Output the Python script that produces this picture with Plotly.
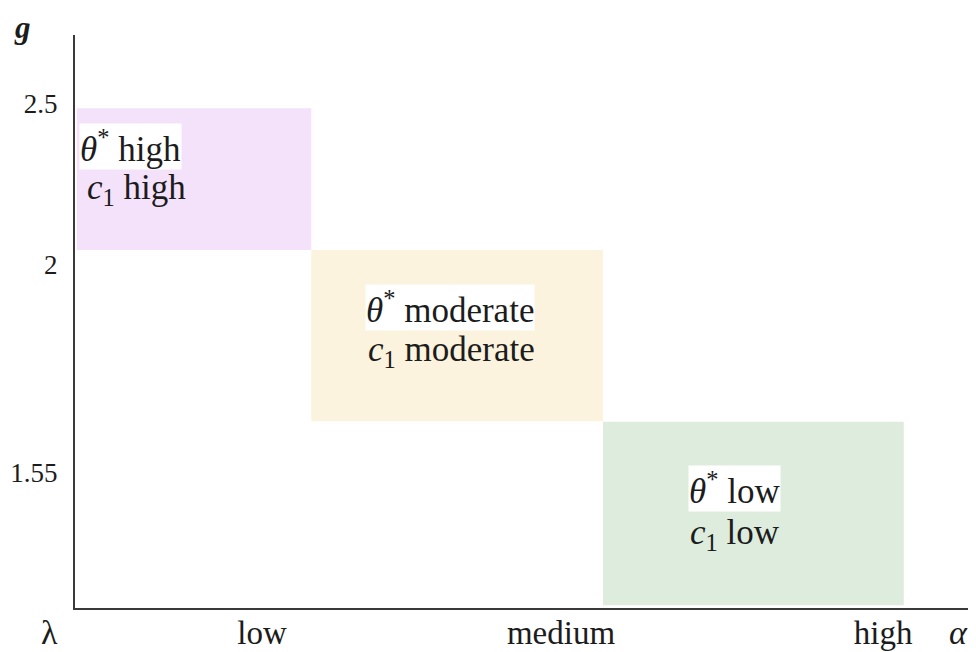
import plotly.graph_objects as go

# ---- data (schematic, in normalised axis units) ----
region_names = ["high", "moderate", "low"]
alpha_start = [0.002, 0.264, 0.590]
alpha_end = [0.264, 0.590, 0.926]
g_bottom = [0.625, 0.326, 0.005]
g_top = [0.872, 0.625, 0.325]
region_colors = ["#f4e2fb", "#fbf3dd", "#ddecdd"]

alpha_tick_vals = [0.209, 0.543, 0.903]
alpha_tick_text = ["low", "medium", "high"]
g_tick_vals = [0.237, 0.600, 0.880]
g_tick_text = ["1.55", "2", "2.5"]

# label positions of each region's two text lines
label_x = [0.004, 0.419, 0.737]
label_x_anchor = ["left", "center", "center"]
theta_y = [0.806, 0.525, 0.209]
c1_y = [0.730, 0.447, 0.129]
c1_x_offset = [0.007, 0.002, 0.0]

SERIF = "Liberation Serif, Times New Roman, serif"
TXT = "#1c1c1c"

fig = go.Figure()
fig.add_trace(go.Scatter(x=[0, 1], y=[0, 1], mode="markers",
                         marker=dict(opacity=0), hoverinfo="skip",
                         showlegend=False))

for i, name in enumerate(region_names):
    fig.add_shape(type="rect", xref="x", yref="y",
                  x0=alpha_start[i], x1=alpha_end[i],
                  y0=g_bottom[i], y1=g_top[i],
                  fillcolor=region_colors[i], line_width=0, layer="below")
    fig.add_annotation(x=label_x[i], y=theta_y[i], xref="x", yref="y",
                       xanchor=label_x_anchor[i], yanchor="middle",
                       text="<i>θ</i><sup>*</sup> " + name,
                       showarrow=False, bgcolor="white", borderpad=0,
                       font=dict(family=SERIF, size=35, color=TXT))
    fig.add_annotation(x=label_x[i] + c1_x_offset[i], y=c1_y[i],
                       xref="x", yref="y",
                       xanchor=label_x_anchor[i], yanchor="middle",
                       text="<i>c</i><sub>1</sub> " + name,
                       showarrow=False,
                       font=dict(family=SERIF, size=35, color=TXT))

# axis end labels
fig.add_annotation(x=-0.028, y=-0.042, xref="paper", yref="paper",
                   text="λ", showarrow=False, xanchor="center", yanchor="middle",
                   font=dict(family=SERIF, size=34, color=TXT))
fig.add_annotation(x=0.987, y=-0.042, xref="paper", yref="paper",
                   text="<i>α</i>", showarrow=False, xanchor="center", yanchor="middle",
                   font=dict(family=SERIF, size=34, color=TXT))
fig.add_annotation(x=-0.059, y=1.047, xref="paper", yref="paper",
                   text="<b><i>g</i></b>", showarrow=False, xanchor="center", yanchor="top",
                   borderpad=0, yshift=-1,
                   font=dict(family=SERIF, size=31, color=TXT))

# the page body adds an 8px margin, so the figure is 8px smaller on each side
fig.update_layout(
    width=968, height=644,
    margin=dict(l=67, r=6, t=27, b=44, autoexpand=False),
    paper_bgcolor="white", plot_bgcolor="white",
    showlegend=False,
    xaxis=dict(range=[0, 1], showgrid=False, zeroline=False,
               showline=True, linecolor="#3a3a3a", linewidth=2,
               tickvals=alpha_tick_vals, ticktext=alpha_tick_text,
               ticks="", ticklabelstandoff=-6, automargin=False,
               tickfont=dict(family=SERIF, size=33, color=TXT),
               fixedrange=True),
    yaxis=dict(range=[0, 1], showgrid=False, zeroline=False,
               showline=True, linecolor="#3a3a3a", linewidth=2,
               tickvals=g_tick_vals, ticktext=g_tick_text,
               ticks="", ticklabelstandoff=10, automargin=False,
               tickfont=dict(family=SERIF, size=27, color=TXT),
               fixedrange=True),
)

fig.write_html("out.html")
